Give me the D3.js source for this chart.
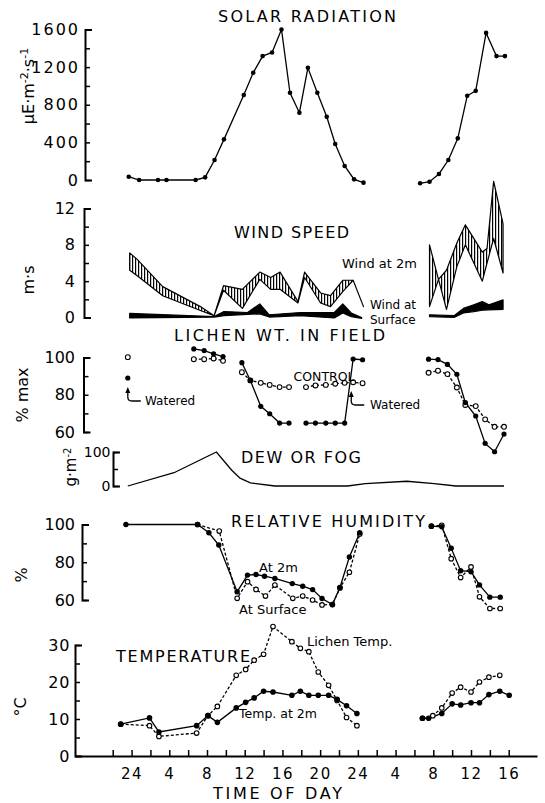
<!DOCTYPE html>
<html>
<head>
<meta charset="utf-8">
<script src="https://cdn.jsdelivr.net/npm/d3@7"></script>
<style>
body { margin: 0; background: #fff; }
svg { display: block; font-family: "DejaVu Sans", sans-serif; }
.axis path { stroke: #000; stroke-width: 2; }
.axis line { stroke: #000; stroke-width: 1.5; }
.axis text { fill: #000; font-family: "DejaVu Sans", sans-serif; }
.line { fill: none; stroke: #000; stroke-width: 1.3; }
.dash { stroke-dasharray: 3,2; }
.title { font-size: 16px; }
</style>
</head>
<body>
<svg width="545" height="803"></svg>
<script>
var svg = d3.select("svg");

// hours are counted from the first midnight ("24"); null marks a gap in the record

// solar radiation
var solarHours = [-0.3, 0.8, 2.8, 3.7, 6.8, 7.8, 8.8, 9.8, 11.9, 12.9, 13.9, 14.9, 15.9, 16.8, 17.8, 18.7, 19.7, 20.7, 21.6, 22.6, 23.6, 24.6,
    null, 30.6, 31.6, 32.6, 33.6, 34.6, 35.6, 36.5, 37.6, 38.7, 39.6];
var solarValues = [35, 0, 0, 0, 0, 28, 212, 432, 903, 1140, 1317, 1356, 1600, 927, 715, 1193, 927, 672, 382, 149, 7, -28,
    null, -35, -18, 64, 212, 443, 895, 948, 1564, 1317, 1317];

// wind at 2m (hatched band between two edges)
var wind2mHours = [-0.2, 0.6, 3.3, 7.3, 8.75, 9.75, 11.75, 13.6, 14.75, 15.75, 17.65, 18.35, 20.05, 21.1, 22.4, 23.5, 24.6,
    null, 31.6, 32.55, 33.4, 34.5, 35.4, 37.2, 37.7, 38.4, 39.4];
var wind2mEdgeA = [7.1, 6.4, 3.4, 1.2, 0.2, 3.5, 3.1, 5.0, 4.4, 5.0, 1.75, 5.0, 2.7, 2.4, 4.1, 4.1, 1.2,
    null, 8.0, 4.2, 0.9, 5.6, 8.0, 4.0, 6.0, 8.7, 4.9];
var wind2mEdgeB = [5.2, 4.6, 2.4, 0.77, 0.2, 3.0, 1.0, 4.2, 3.1, 3.1, 1.6, 4.4, 1.6, 1.2, 2.85, 4.1, 1.2,
    null, 1.2, 4.2, 5.2, 8.2, 10.2, 7.2, 7.6, 15.0, 10.3];

// wind at surface (black band)
var windSurfHours = [-0.2, 8.75, 9.8, 12.3, 13.6, 14.6, 17.9, 21.5, 22.4, 23.3, 24.4,
    null, 31.6, 34.2, 35.2, 36.3, 37.2, 37.9, 39.4];
var windSurfHigh = [0.45, 0.1, 0.65, 0.55, 1.5, 0.3, 0.55, 0.55, 1.5, 0.5, 0.0,
    null, 0.3, 0.2, 1.0, 1.4, 1.75, 1.4, 1.95];
var windSurfLow = [-0.05, 0.05, 0.2, 0.35, 0.4, 0.05, 0.2, -0.05, 0.5, 0.1, -0.1,
    null, 0.1, 0.0, 0.5, 0.65, 0.8, 0.85, 0.9];

// lichen weight, % of max
var lichenHours = [-0.4, null, 6.6, 7.7, 8.7, 9.7, null, 11.7, 12.6, 13.7, 14.65, 15.7, 16.7,
    null, 18.5, 19.5, 20.6, 21.6, 22.6, 23.5, 24.5, null, 31.5, 32.5, 33.5, 34.5, 35.4, 36.5, 37.5, 38.5, 39.5];
var lichenWatered = [89, null, 104.6, 103.7, 102, 100.5, null, 97.2, 87.7, 73.8, 69.8, 64.8, 64.8,
    null, 64.8, 64.8, 64.8, 64.8, 64.8, 99.2, 98.8, null, 99.1, 98.9, 96.3, 91, 75.8, 68.6, 53.9, 49.4, 58.9];
var lichenControl = [100.2, null, 99.1, 99.1, 99.5, 98.2, null, 92.1, 87.7, 86.4, 85.3, 84.1, 84.1,
    null, 84.1, 85, 85.3, 85.9, 86.4, 86.7, 86.2, null, 91.8, 92.9, 91.1, 83.9, 74.5, 73.9, 66.8, 62.8, 62.8];

// dew or fog, g/m2
var dewHours = [-0.4, 4.5, 9.0, 10.6, 11.5, 12.6, 15.2, 22.9, 24.8, 29.2, 32.1, 34.4, 39.5];
var dewValues = [0, 39, 100, 47, 23, 9, 0, 0, 7, 14, 7, 0, 0];

// relative humidity, %
var rh2mHours = [-0.6, 7.0, 8.2, 9.25, 11.2, 12.3, 13.2, 14.1, 15.2, 17.05, 18.15, 19.2, 20.2, 21.3, 22.1, 23.1, 24.2,
    null, 31.8, 32.9, 33.9, 34.9, 36.0, 36.9, 38.0, 39.1];
var rh2m = [100, 100, 95.6, 89.1, 64.4, 73.2, 73.5, 72.6, 71.4, 68.7, 67.3, 65.5, 60.8, 57.6, 66.6, 82.8, 95.6,
    null, 99.1, 98.8, 87.4, 75.5, 75, 68, 61.5, 61.5];
var rhSurfHours = [7.0, 9.3, 11.2, 12.3, 13.2, 14.2, 15.2, 17.1, 18.15, 19.2, 20.2, 21.3, 22.1, 23.1, 24.2,
    null, 31.8, 32.9, 33.9, 34.9, 36.0, 36.9, 38.0, 39.1];
var rhSurface = [100, 96.5, 60.9, 69.7, 65.6, 62.1, 67.9, 60.9, 62.1, 60, 57.4, 57.6, 66.4, 74.7, 95,
    null, 99.1, 99.6, 81.9, 71.9, 77.5, 61.7, 55.5, 55.5];

// temperature, deg C
var tempAirHours = [-1.15, 1.9, 2.9, 6.9, 8.1, 9.1, 11.1, 12.1, 13.0, 14.0, 15.0, 17.0, 17.9, 18.8, 19.8, 20.9, 21.8, 22.8, 23.9,
    null, 30.85, 31.5, 32.9, 34.0, 34.9, 36.0, 36.9, 37.9, 39.05, 40.05];
var tempAir = [8.6, 10.3, 6.5, 8.2, 10.9, 9.1, 13, 14.5, 15.7, 17.5, 17.3, 16.4, 17.5, 16.4, 16.4, 16.4, 15.3, 13.6, 11.5,
    null, 10.2, 10.2, 11.5, 14.1, 13.8, 14.4, 14.4, 16.6, 17.5, 16.4];
var tempLichenHours = [-1.15, 1.9, 2.9, 6.9, 8.1, 9.1, 11.1, 12.1, 13.0, 14.0, 15.0, 17.0, 17.9, 18.8, 19.8, 20.9, 21.8, 22.8, 23.9,
    null, 30.85, 31.95, 32.9, 34.0, 34.9, 36.0, 36.9, 37.9, 39.05];
var tempLichen = [8.6, 8.2, 5.3, 6.2, 10.9, 13.4, 21.8, 23.4, 25.9, 27.5, 35, 30.9, 29.1, 28.2, 22.7, 19.1, 15, 10.4, 8.2,
    null, 10.2, 10.9, 13, 17, 18.6, 17.3, 20, 21.3, 21.8];

// axis ticks
var timeTicks = [-2, 0, 2, 4, 6, 8, 10, 12, 14, 16, 18, 20, 22, 24, 26, 28, 30, 32, 34, 36, 38, 40];
var timeLabelAt = [0, 4, 8, 12, 16, 20, 24, 28, 32, 36, 40];
var timeLabels = ["24", "4", "8", "12", "16", "20", "24", "4", "8", "12", "16"];
var solarTicks = [0, 200, 400, 600, 800, 1000, 1200, 1400, 1600];
var solarLabels = [0, 400, 800, 1200, 1600];
var windTicks = [0, 2, 4, 6, 8, 10, 12];
var windLabels = [0, 4, 8, 12];
var lichenTicks = [60, 70, 80, 90, 100];
var lichenLabels = [60, 80, 100];
var dewTicks = [0, 50, 100];
var dewLabels = [0, 100];
var rhTicks = [60, 70, 80, 90, 100];
var rhLabels = [60, 80, 100];
var tempTicks = [0, 5, 10, 15, 20, 25, 30];
var tempLabels = [0, 10, 20, 30];

// scales
var xScale = d3.scaleLinear().domain([-6, 43]).range([75, 537]);
var ySolar = d3.scaleLinear().domain([0, 1600]).range([180, 29.5]);
var yWind = d3.scaleLinear().domain([0, 12]).range([317.5, 208.5]);
var yLichen = d3.scaleLinear().domain([60, 100]).range([432, 357.5]);
var yDew = d3.scaleLinear().domain([0, 100]).range([486, 452]);
var yRH = d3.scaleLinear().domain([60, 100]).range([600, 524.5]);
var yTemp = d3.scaleLinear().domain([0, 30]).range([756, 645]);

// vertical hatching for the 2m wind band
svg.append("defs")
    .append("pattern")
    .attr("id", "vhatch")
    .attr("patternUnits", "userSpaceOnUse")
    .attr("width", 3)
    .attr("height", 6)
    .append("rect")
    .attr("width", 1.2)
    .attr("height", 6)
    .attr("fill", "#000");

function pts(hours, vals) {
    return hours.map(function (t, i) { return { t: t, v: vals[i] }; });
}

function lineGen(y) {
    return d3.line()
        .defined(d => d.t != null && d.v != null)
        .x(d => xScale(d.t))
        .y(d => y(d.v));
}

function drawLine(data, y, dashed) {
    svg.append("path")
        .datum(data)
        .attr("class", dashed ? "line dash" : "line")
        .attr("d", lineGen(y));
}

function drawDots(data, y, r, open) {
    svg.append("g")
        .selectAll("circle")
        .data(data.filter(d => d.t != null && d.v != null))
        .join("circle")
        .attr("cx", d => xScale(d.t))
        .attr("cy", d => y(d.v))
        .attr("r", r)
        .attr("fill", open ? "#fff" : "#000")
        .attr("stroke", "#000")
        .attr("stroke-width", open ? 1.1 : 0);
}

function drawBand(hours, a, b, fill, y) {
    var data = hours.map(function (t, i) { return { t: t, a: a[i], b: b[i] }; });
    var area = d3.area()
        .defined(d => d.t != null)
        .x(d => xScale(d.t))
        .y0(d => y(d.a))
        .y1(d => y(d.b));
    svg.append("path")
        .datum(data)
        .attr("d", area)
        .attr("fill", fill)
        .attr("stroke", "#000")
        .attr("stroke-width", 1.2)
        .attr("stroke-linejoin", "round");
}

function drawLeftAxis(scale, x, ticks, labels, pad, size, spacing) {
    var g = svg.append("g")
        .attr("class", "axis")
        .attr("transform", "translate(" + x + ",0)")
        .call(d3.axisLeft(scale)
            .tickValues(ticks)
            .tickSize(-5)
            .tickSizeOuter(-7)
            .tickPadding(pad)
            .tickFormat(d => labels.indexOf(d) >= 0 ? d : ""));
    g.attr("font-family", null).attr("font-size", null);
    g.selectAll("text")
        .attr("font-size", size)
        .style("letter-spacing", spacing + "px");
}

function title(txt, x, y, len) {
    svg.append("text")
        .attr("class", "title")
        .attr("x", x)
        .attr("y", y)
        .attr("textLength", len)
        .attr("lengthAdjust", "spacing")
        .text(txt);
}

function note(txt, x, y, size) {
    svg.append("text")
        .attr("x", x)
        .attr("y", y)
        .attr("font-size", size)
        .text(txt);
}

function yLabel(cx, cy) {
    return svg.append("text")
        .attr("transform", "translate(" + cx + "," + cy + ") rotate(-90)")
        .attr("text-anchor", "middle")
        .attr("dy", "0.35em")
        .attr("font-size", 16);
}

function watered(x, tipY, textX) {
    svg.append("path")
        .attr("d", "M" + x + "," + (tipY + 3) + "V" + (tipY + 9) +
            "Q" + x + "," + (tipY + 13) + " " + (x + 4) + "," + (tipY + 13) + "H" + (x + 13))
        .attr("fill", "none")
        .attr("stroke", "#000")
        .attr("stroke-width", 1.3);
    svg.append("path")
        .attr("d", "M" + (x - 2.5) + "," + (tipY + 5) + "L" + x + "," + (tipY - 1) + "L" + (x + 2.5) + "," + (tipY + 5) + "Z")
        .attr("fill", "#000");
    note("Watered", textX, tipY + 17, 12);
}

// ---- solar radiation
drawLeftAxis(ySolar, 85, solarTicks, solarLabels, 5, 16, 2);
drawLine(pts(solarHours, solarValues), ySolar);
drawDots(pts(solarHours, solarValues), ySolar, 2.3);
title("SOLAR RADIATION", 218, 22, 178);
var sl = yLabel(28, 86);
sl.append("tspan").text("\u03bcE\u00b7m");
sl.append("tspan").attr("baseline-shift", "super").attr("font-size", 11).text("-2");
sl.append("tspan").text("\u00b7s");
sl.append("tspan").attr("baseline-shift", "super").attr("font-size", 11).text("-1");

// ---- wind speed
drawLeftAxis(yWind, 84, windTicks, windLabels, 9, 16, 0);
drawBand(wind2mHours, wind2mEdgeA, wind2mEdgeB, "url(#vhatch)", yWind);
drawBand(windSurfHours, windSurfHigh, windSurfLow, "#000", yWind);
title("WIND SPEED", 234, 238, 115);
note("Wind at 2m", 342, 268, 13);
note("Wind at", 370, 309, 12);
note("Surface", 370, 324, 12);
yLabel(28, 280).text("m\u00b7s");

// ---- lichen weight
drawLeftAxis(yLichen, 83.5, lichenTicks, lichenLabels, 8.5, 16, 0);
drawLine(pts(lichenHours, lichenControl), yLichen, true);
drawLine(pts(lichenHours, lichenWatered), yLichen);
drawDots(pts(lichenHours, lichenControl), yLichen, 2.4, true);
drawDots(pts(lichenHours, lichenWatered), yLichen, 2.6);
title("LICHEN WT. IN FIELD", 174, 341, 211);
note("CONTROL", 293.5, 380.5, 12.5);
watered(xScale(lichenHours[0]), yLichen(lichenWatered[0]) + 10, 145);
watered(xScale(23.3), 392, 370);
yLabel(22, 395).text("% max");

// ---- dew or fog
drawLeftAxis(yDew, 113, dewTicks, dewLabels, 2.5, 14, 0);
drawLine(pts(dewHours, dewValues), yDew);
title("DEW OR FOG", 241, 462.5, 120);
var dl = yLabel(71, 467).attr("font-size", 15);
dl.append("tspan").text("g\u00b7m");
dl.append("tspan").attr("baseline-shift", "super").attr("font-size", 10).text("-2");

// ---- relative humidity
drawLeftAxis(yRH, 82, rhTicks, rhLabels, 7, 16, 0);
drawLine(pts(rhSurfHours, rhSurface), yRH, true);
drawLine(pts(rh2mHours, rh2m), yRH);
drawDots(pts(rhSurfHours, rhSurface), yRH, 2.3, true);
drawDots(pts(rh2mHours, rh2m), yRH, 2.7);
title("RELATIVE HUMIDITY", 231, 526.5, 194);
note("At 2m", 259, 571.5, 13);
note("At Surface", 239, 614, 13);
yLabel(21, 575).text("%");

// ---- temperature
drawLeftAxis(yTemp, 75, tempTicks, tempLabels, 4.5, 16, 1);
drawLine(pts(tempLichenHours, tempLichen), yTemp, true);
drawLine(pts(tempAirHours, tempAir), yTemp);
drawDots(pts(tempLichenHours, tempLichen), yTemp, 2.3, true);
drawDots(pts(tempAirHours, tempAir), yTemp, 2.8);
title("TEMPERATURE", 116, 661.5, 134);
note("Lichen Temp.", 307, 646, 13);
note("Temp. at 2m", 239, 718, 12.5);
yLabel(20, 707).text("\u00b0C");

// ---- time axis
var xg = svg.append("g")
    .attr("class", "axis")
    .attr("transform", "translate(0,756)")
    .call(d3.axisBottom(xScale)
        .tickValues(timeTicks)
        .tickSize(-6)
        .tickSizeOuter(0)
        .tickPadding(12)
        .tickFormat(d => {
            var i = timeLabelAt.indexOf(d);
            return i >= 0 ? timeLabels[i] : "";
        }));
xg.attr("font-family", null).attr("font-size", null);
xg.selectAll("text").attr("font-size", 15).style("letter-spacing", "1.5px");
title("TIME OF DAY", 213, 799, 129);
</script>
</body>
</html>
